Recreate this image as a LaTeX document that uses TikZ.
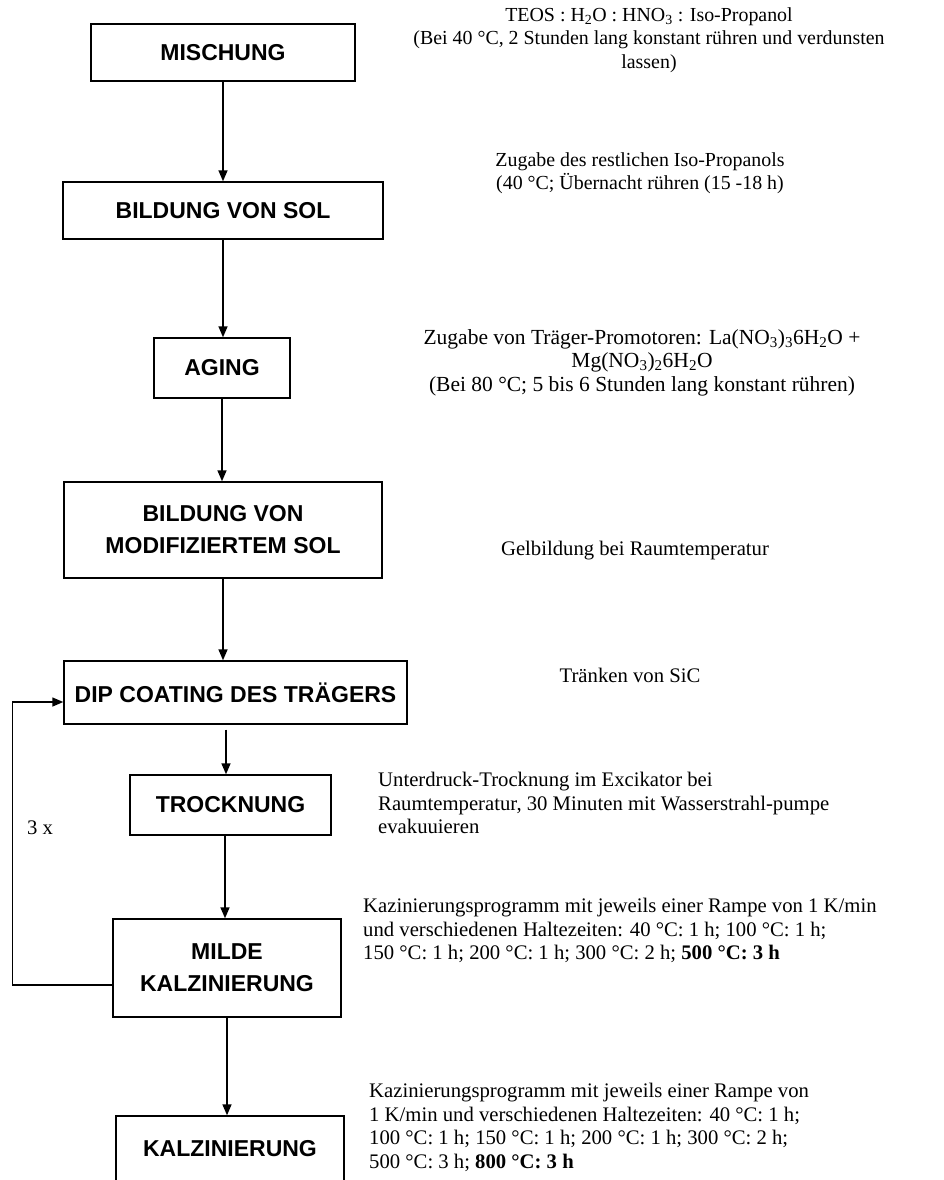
\documentclass[tikz,border=0pt]{standalone}
\usepackage{fontspec}
\setmainfont{Liberation Serif}
\setsansfont{Liberation Sans}
\usetikzlibrary{arrows.meta}
\begin{document}
\begin{tikzpicture}[x=1pt,y=-1pt,
  stepbox/.style={draw, line width=1.4pt, inner sep=0pt, align=center,
    font=\sffamily\bfseries\fontsize{23}{32}\selectfont},
  note/.style={inner sep=0pt, font=\fontsize{20.7}{23.5}\selectfont},
  smallnote/.style={inner sep=0pt, font=\fontsize{19.9}{23.5}\selectfont},
  bignote/.style={inner sep=0pt, font=\fontsize{21.5}{23.5}\selectfont},
  arr/.style={line width=1.4pt, -{Triangle[length=11pt,width=9pt]}}]
\useasboundingbox (0,0) rectangle (944,1180);
\clip (0,0) rectangle (944,1180);
\fill[white] (0,0) rectangle (944,1180);

% process steps
\node[stepbox, minimum width=264pt, minimum height=57pt] (b1) at (223,52.5) {MISCHUNG};
\node[stepbox, minimum width=320pt, minimum height=57pt] (b2) at (223,210.5) {BILDUNG VON SOL};
\node[stepbox, minimum width=136pt, minimum height=60pt] (b3) at (222,368) {AGING};
\node[stepbox, minimum width=318pt, minimum height=96pt] (b4) at (223,530) {BILDUNG VON\\MODIFIZIERTEM SOL};
\node[stepbox, minimum width=343pt, minimum height=63pt] (b5) at (235.5,692.5) {DIP COATING DES TRÄGERS};
\node[stepbox, minimum width=201pt, minimum height=60pt] (b6) at (230.5,805) {TROCKNUNG};
\node[stepbox, minimum width=228pt, minimum height=98pt] (b7) at (227,968) {MILDE\\KALZINIERUNG};
\node[stepbox, minimum width=228pt, minimum height=66pt] (b8) at (230,1149) {KALZINIERUNG};

% connectors
\draw[arr] (b1.south) -- (b1.south |- b2.north);
\draw[arr] (b2.south) -- (b2.south |- b3.north);
\draw[arr] (b3.south) -- (b3.south |- b4.north);
\draw[arr] (b4.south) -- (b4.south |- b5.north);
\draw[arr] ([xshift=-4.5pt,yshift=-5pt]b6.north |- b5.south) -- ([xshift=-4.5pt]b6.north);
\draw[arr] ([xshift=-2pt]b7.north |- b6.south) -- ([xshift=-2pt]b7.north);
\draw[arr] (b7.south) -- (b7.south |- b8.north);
\draw[arr] ([yshift=-17pt]b7.west) -- ++(-100,0) |- ([yshift=-9.5pt]b5.west);
\node[note, anchor=north west] (rep) at (27,821) {3 x};

% process notes
\node[smallnote, align=center, anchor=north] (t1) at (649,7)
  {TEOS : H\textsubscript{2}O : HNO\textsubscript{3} : Iso-Propanol\\
   (Bei 40 °C, 2 Stunden lang konstant rühren und verdunsten\\lassen)};
\node[smallnote, align=center, anchor=north] (t2) at (640,152)
  {Zugabe des restlichen Iso-Propanols\\(40 °C; Übernacht rühren (15 -18 h)};
\node[bignote, align=center, anchor=north] (t3) at (642,329)
  {Zugabe von Träger-Promotoren: La(NO\textsubscript{3})\textsubscript{3}6H\textsubscript{2}O +\\
   Mg(NO\textsubscript{3})\textsubscript{2}6H\textsubscript{2}O\\
   (Bei 80 °C; 5 bis 6 Stunden lang konstant rühren)};
\node[note, anchor=north] (t4) at (635,541) {Gelbildung bei Raumtemperatur};
\node[note, anchor=north] (t5) at (630,668) {Tränken von SiC};
\node[note, align=left, anchor=north west] (t6) at (378,772)
  {Unterdruck-Trocknung im Excikator bei\\
   Raumtemperatur, 30 Minuten mit Wasserstrahl-pumpe\\
   evakuuieren};
\node[note, align=left, anchor=north west] (t7) at (363,898)
  {Kazinierungsprogramm mit jeweils einer Rampe von 1 K/min\\
   und verschiedenen Haltezeiten: 40 °C: 1 h; 100 °C: 1 h;\\
   150 °C: 1 h; 200 °C: 1 h; 300 °C: 2 h; \textbf{500 °C: 3 h}};
\node[note, align=left, anchor=north west] (t8) at (369,1083)
  {Kazinierungsprogramm mit jeweils einer Rampe von\\
   1 K/min und verschiedenen Haltezeiten: 40 °C: 1 h;\\
   100 °C: 1 h; 150 °C: 1 h; 200 °C: 1 h; 300 °C: 2 h;\\
   500 °C: 3 h; \textbf{800 °C: 3 h}};
\end{tikzpicture}
\end{document}
